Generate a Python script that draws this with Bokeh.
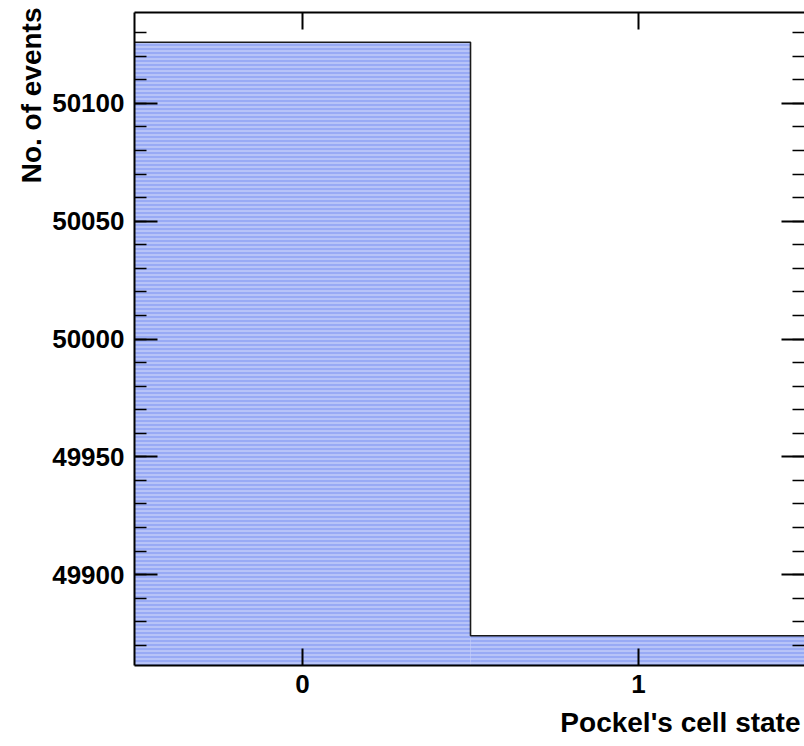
import math
import numpy as np
from bokeh.plotting import figure
from bokeh.models import Range1d, LinearAxis, FixedTicker, Title
from bokeh.embed import file_html
from bokeh.resources import INLINE

# ---- data ----
states = [0, 1]
counts = [50126, 49874]
x_major_ticks = [0, 1]
y_major_ticks = [49900, 49950, 50000, 50050, 50100]
y_minor_ticks = list(range(49870, 50131, 10))
x_title = "Pockel's cell state"
y_title = "No. of events"

FONT = "Liberation Sans"
FS = "26px"
TFS = "28px"

cmax, cmin = max(counts), min(counts)
pad = 0.05 * (cmax - cmin)
ymin, ymax = cmin - pad, cmax + pad
edges = [s - 0.5 for s in states] + [states[-1] + 0.5]
xmin = edges[0]
xmax = 1.494  # visible part of the frame

p = figure(width=804, height=746,
           x_range=Range1d(xmin, xmax), y_range=Range1d(ymin, ymax),
           output_backend="svg", toolbar_location=None,
           min_border_left=134, min_border_right=0,
           min_border_top=12, min_border_bottom=81)
p.grid.visible = False
p.outline_line_color = None
p.background_fill_color = "white"
p.border_fill_color = "white"

# histogram fill
p.quad(left=edges[:-1], right=edges[1:], bottom=ymin, top=counts,
       fill_color="#98aaf5", line_color=None,
       hatch_pattern="horizontal_line", hatch_color="white",
       hatch_scale=4, hatch_weight=1, hatch_alpha=0.6)

# histogram outline (step)
xs = list(np.repeat(edges, 2)[1:-1])
ys = list(np.repeat(counts, 2))
p.line(x=xs, y=ys, line_color="#1a1a1a", line_width=1.6)

# bottom axis
xa = p.xaxis[0]
xa.ticker = FixedTicker(ticks=x_major_ticks, minor_ticks=[])
xa.major_tick_in = 17
xa.major_tick_out = 0
xa.major_tick_line_width = 2
xa.axis_line_width = 2
xa.major_label_standoff = 9
xa.major_label_text_font = FONT
xa.major_label_text_font_style = "bold"
xa.major_label_text_font_size = FS
xa.major_label_text_color = "black"

# left axis
ya = p.yaxis[0]
ya.ticker = FixedTicker(ticks=y_major_ticks, minor_ticks=y_minor_ticks)
ya.major_tick_in = 23
ya.major_tick_out = 0
ya.minor_tick_in = 12
ya.minor_tick_out = 0
ya.major_tick_line_width = 2
ya.minor_tick_line_width = 1.5
ya.axis_line_width = 2
ya.major_label_standoff = 10
ya.major_label_text_font = FONT
ya.major_label_text_font_style = "bold"
ya.major_label_text_font_size = FS
ya.major_label_text_color = "black"

# top axis (frame border + ticks)
top = LinearAxis(ticker=FixedTicker(ticks=x_major_ticks, minor_ticks=[]),
                 major_tick_in=17, major_tick_out=0, major_tick_line_width=2,
                 axis_line_width=2, major_label_text_font_size="0px",
                 major_label_standoff=0)
p.add_layout(top, "above")

# right axis (ticks only)
right = LinearAxis(ticker=FixedTicker(ticks=y_major_ticks, minor_ticks=y_minor_ticks),
                   major_tick_in=23, major_tick_out=0, minor_tick_in=12, minor_tick_out=0,
                   major_tick_line_width=2, minor_tick_line_width=1.5,
                   axis_line_color=None, major_label_text_font_size="0px",
                   major_label_standoff=0)
p.add_layout(right, "right")

# axis titles
p.add_layout(Title(text=y_title, align="right", text_font=FONT,
                   text_font_style="bold", text_font_size=TFS,
                   text_color="black", standoff=5, offset=-5), "left")
p.add_layout(Title(text=x_title, align="right",
                   text_font=FONT, text_font_style="bold", text_font_size=TFS,
                   text_color="black", standoff=18, offset=4), "below")

open("out.html", "w").write(file_html(p, INLINE))
